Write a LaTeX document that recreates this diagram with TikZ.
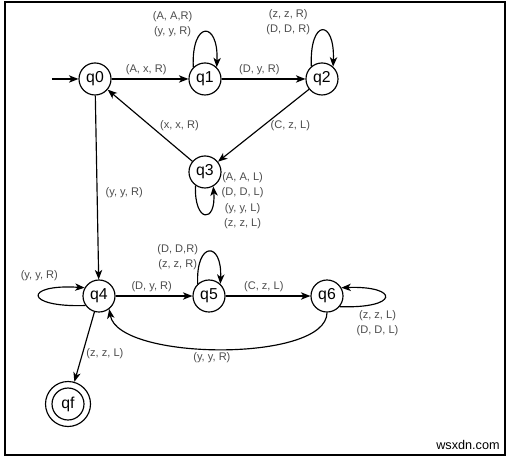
\documentclass[tikz,border=0pt]{standalone}
\usepackage{fontspec}
\setmainfont{Liberation Sans}
\usetikzlibrary{arrows.meta}
\tikzset{
  state/.style={circle, draw=black, line width=1.1pt, minimum size=1.067cm, inner sep=0pt, font=\fontsize{15}{15}\selectfont},
  accept/.style={state, minimum size=1.5cm},
  trans/.style={line width=1.1pt, draw=black, -{Stealth[length=9pt, width=7pt, inset=2.5pt]}},
  translabel/.style={font=\fontsize{10.5}{14.5}\selectfont, text=black!70, align=center},
  outerframe/.style={draw=black, line width=1.3pt},
  watermark/.style={font=\fontsize{12}{12}\selectfont, text=black},
}

\begin{document}
\begin{tikzpicture}
\useasboundingbox (0,0) rectangle (17.0,15.300);
\draw[outerframe] (0.167,15.233) rectangle (16.833,0.133);
\node[state] (q0) at (3.167,12.667) {q0};
\node[state] (q1) at (6.833,12.667) {q1};
\node[state] (q2) at (10.733,12.667) {q2};
\node[state] (q3) at (6.833,9.567) {q3};
\node[state] (q4) at (3.300,5.433) {q4};
\node[state] (q5) at (6.967,5.433) {q5};
\node[state] (q6) at (10.900,5.433) {q6};
\node[accept] (qf) at (2.267,1.833) {qf};
\draw[line width=1.1pt] (qf.center) circle (0.533);
\coordinate (start) at (1.733,12.667);
\draw[trans] (start) -- (q0);
\draw[trans] (q0) -- node[translabel, above, pos=0.45] {(A, x, R)} (q1);
\draw[trans] (q1) -- node[translabel, above, pos=0.45] {(D, y, R)} (q2);
\draw[trans] (q1.135) .. controls +(-0.067,1.567) and +(0.067,1.567) .. node[translabel, above left, pos=0.25] {(A, A,R)\\(y, y, R)} (q1.45);
\draw[trans] (q2.130) .. controls +(-0.067,1.600) and +(0.067,1.600) .. node[translabel, above left, pos=0.25] {(z, z, R)\\(D, D, R)} (q2.48);
\draw[trans] (q2) -- node[translabel, right, pos=0.5, xshift=0.1cm] {(C, z, L)} (q3);
\draw[trans] (q3) -- node[translabel, right, pos=0.5, xshift=0.2cm] {(x, x, R)} (q0);
\draw[trans] (q3.235) .. controls +(-0.05,-1.25) and +(0.1,-1.25) .. node[translabel, right, pos=0.85, xshift=0.15cm] {(A, A, L)\\(D, D, L)\\(y, y, L)\\(z, z, L)} (q3.300);
\draw[trans] (q0) -- node[translabel, right, pos=0.53, xshift=0.15cm] {(y, y, R)} (q4);
\draw[trans] (q4.215) .. controls +(-2.07,-0.07) and +(-2.03,0.13) .. node[translabel, above=9pt, pos=0.55] {(y, y, R)} (q4.150);
\draw[trans] (q4) -- node[translabel, above, pos=0.47] {(D, y, R)} (q5);
\draw[trans] (q5.133) .. controls +(-0.067,1.430) and +(0.067,1.430) .. node[translabel, left, pos=0.3] {(D, D,R)\\(z, z, R)} (q5.47);
\draw[trans] (q5) -- node[translabel, above, pos=0.45] {(C, z, L)} (q6);
\draw[trans] (q6.-40) .. controls +(2.0,-0.07) and +(1.94,0.07) .. node[translabel, below=3pt, pos=0.3] {(z, z, L)\\(D, D, L)} (q6.30);
\draw[trans] (q6.south) .. controls +(0,-1.667) and +(0.3,-1.733) .. node[translabel, below, pos=0.53] {(y, y, R)} (q4.-52);
\draw[trans] (q4) -- node[translabel, right, pos=0.6] {(z, z, L)} (qf);
\node[watermark] (mark) at (15.600,0.467) {wsxdn.com};
\end{tikzpicture}
\end{document}
